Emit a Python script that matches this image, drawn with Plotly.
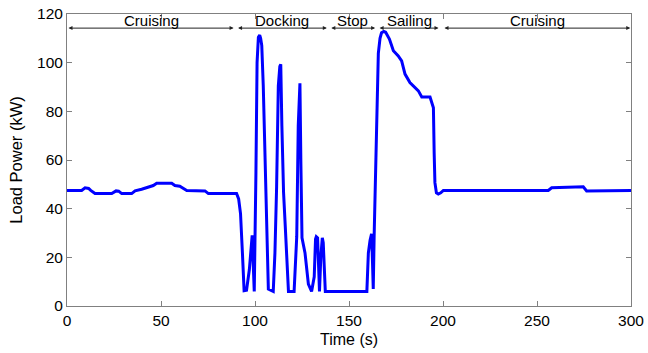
import plotly.graph_objects as go

# Time (s) and load power (kW)
time_s = [0, 7.8, 9.6, 11.5, 12.6, 14.9, 23.8, 26.1, 27.5, 29.1, 34.4, 36.2, 39.7, 43.3, 45.9,
          47.7, 55.7, 57.4, 60.0, 63.7, 73.4, 75.2, 90.2, 91.3, 92.3, 93.3, 94.2, 95.5, 97.0,
          98.5, 99.1, 99.6, 100.5, 101.1, 101.8, 102.5, 103.0, 103.6, 104.4, 105.3, 106.2, 107.1,
          109.7, 110.6, 111.5, 112.4, 113.2, 113.7, 114.3, 115.2, 116.1, 117.8, 120.8, 122.2,
          123.0, 123.6, 123.9, 124.4, 125.0, 126.6, 128.4, 130.1, 131.5, 132.2, 132.6, 133.3,
          133.8, 134.3, 135.0, 135.5, 135.8, 136.3, 136.8, 137.4, 159.5, 160.3, 161.2, 161.7,
          162.0, 162.5, 162.9, 163.4, 164.7, 165.6, 166.5, 167.3, 168.5, 169.5, 171.5, 173.6,
          176.2, 178.0, 179.8, 182.4, 186.9, 188.7, 193.1, 194.9, 195.3, 195.7, 196.5, 197.5,
          198.8, 200.2, 256.0, 257.8, 274.6, 276.4, 300.0]
load_kw = [47.5, 47.5, 48.6, 48.3, 47.5, 46.2, 46.2, 47.3, 47.2, 46.2, 46.2, 47.3, 48.0, 48.9, 49.5,
           50.4, 50.4, 49.5, 49.2, 47.5, 47.3, 46.2, 46.2, 44.0, 38.0, 22.0, 6.3, 6.5, 15.0,
           29.0, 15.0, 6.0, 55.0, 100.0, 110.5, 111.3, 110.0, 107.0, 90.4, 60.0, 35.5, 7.0,
           6.0, 21.8, 49.0, 90.4, 98.5, 99.3, 74.0, 46.5, 32.7, 6.0, 6.0, 28.5,
           74.0, 90.0, 91.5, 59.0, 28.0, 21.8, 9.0, 6.0, 12.0, 27.5, 28.5, 28.0,
           15.0, 6.0, 20.0, 27.5, 28.0, 26.0, 15.0, 6.0, 6.0, 21.8, 27.0, 29.3,
           29.7, 18.0, 7.0, 29.7, 79.0, 103.8, 110.0, 112.3, 112.8, 112.5, 109.7, 104.9,
           102.8, 100.7, 95.3, 91.8, 88.4, 85.9, 85.9, 81.5, 63.0, 50.7, 46.5, 46.0,
           46.5, 47.5, 47.5, 48.6, 49.0, 47.3, 47.5]

# Operating phases: labels and boundaries (s)
phase_labels = ["Cruising", "Docking", "Stop", "Sailing", "Cruising"]
phase_start = [0, 90.2, 139.8, 165.5, 200.0]
phase_end = [88.6, 138.2, 163.9, 197.6, 299.6]
phase_center = [45, 114.5, 152, 182, 250]
arrow_level = 114.2
label_level = 117.5

fig = go.Figure()
fig.add_trace(go.Scatter(x=time_s, y=load_kw, mode="lines",
                         line=dict(color="#0000FF", width=3), showlegend=False))

annotations = []
for s, e in zip(phase_start, phase_end):
    annotations.append(dict(x=e, y=arrow_level, ax=s, ay=arrow_level,
                            xref="x", yref="y", axref="x", ayref="y",
                            text="", showarrow=True, arrowhead=2, arrowside="end+start",
                            arrowsize=0.8, arrowwidth=1, arrowcolor="#222222",
                            standoff=0, startstandoff=0))
for lab, c in zip(phase_labels, phase_center):
    annotations.append(dict(x=c, y=label_level, xref="x", yref="y", text=lab,
                            showarrow=False, yanchor="middle",
                            font=dict(size=15, color="#000000")))

axis_common = dict(showgrid=False, zeroline=False, showline=True, mirror="allticks",
                   linecolor="#808080", linewidth=1, ticks="inside", ticklen=5,
                   tickcolor="#808080", tickfont=dict(size=15.5, color="#000000"),
                   automargin=False)

fig.update_layout(
    width=648, height=353,
    margin=dict(l=67, r=17, t=14, b=47),
    paper_bgcolor="white", plot_bgcolor="white",
    font=dict(family="Liberation Sans, Arial, sans-serif", color="#000000"),
    annotations=annotations,
    xaxis=dict(range=[0, 300], tickvals=[0, 50, 100, 150, 200, 250, 300],
               title=dict(text="Time (s)", font=dict(size=16), standoff=6), **axis_common),
    yaxis=dict(range=[0, 120], tickvals=[0, 20, 40, 60, 80, 100, 120],
               title=dict(text="Load Power (kW)", font=dict(size=16.5), standoff=10), **axis_common),
)

fig.write_html("out.html", config={"displayModeBar": False},
               post_script="document.body.style.margin='0px';")
